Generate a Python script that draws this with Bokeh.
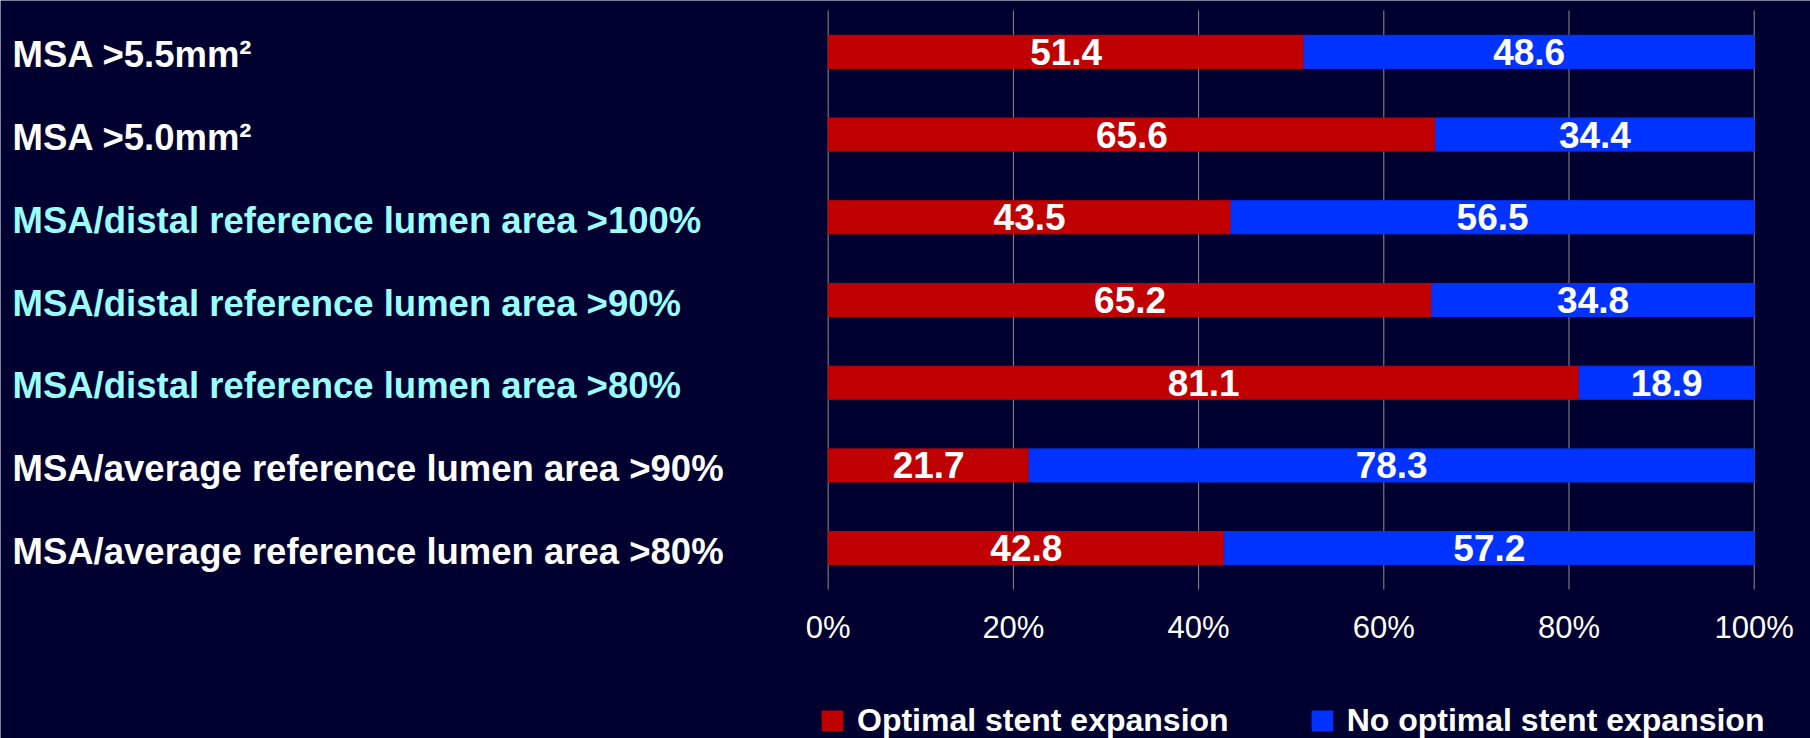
from bokeh.plotting import figure
from bokeh.models import ColumnDataSource, Range1d, Legend, LegendItem
from bokeh.core.properties import value
from bokeh.embed import file_html
from bokeh.resources import INLINE

# Criteria, listed top to bottom
categories = [
    "MSA >5.5mm²",
    "MSA >5.0mm²",
    "MSA/distal reference lumen area >100%",
    "MSA/distal reference lumen area >90%",
    "MSA/distal reference lumen area >80%",
    "MSA/average reference lumen area >90%",
    "MSA/average reference lumen area >80%",
]
optimal = [51.4, 65.6, 43.5, 65.2, 81.1, 21.7, 42.8]
not_optimal = [48.6, 34.4, 56.5, 34.8, 18.9, 78.3, 57.2]
label_colors = ["#FFFFFF", "#FFFFFF", "#99FFFF", "#99FFFF", "#99FFFF", "#FFFFFF", "#FFFFFF"]
x_ticks = [0, 20, 40, 60, 80, 100]
tick_labels = ["0%", "20%", "40%", "60%", "80%", "100%"]
series_names = ["Optimal stent expansion", "No optimal stent expansion"]

BG = "#000030"
RED = "#C00000"
BLUE = "#0033FF"
GRID = "#8C8C8C"
FONT = value("Liberation Sans")

W, H = 1810, 738
# plot area inside the canvas (pixels): left, right, top, bottom
PL, PR, PT, PB = 827.7, 1753.7, 10.0, 589.0

n = len(categories)
ypos = [n - 0.5 - i for i in range(n)]

# ranges chosen so that 0..100 % spans the plot area and each row is one unit tall
px_x = (PR - PL) / 100.0
px_y = (PB - PT) / n
x_range = Range1d(-PL / px_x, (W - PL) / px_x)
y_range = Range1d(-(H - PB) / px_y, n + PT / px_y)

p = figure(width=W, height=H, x_range=x_range, y_range=y_range,
           output_backend="svg", toolbar_location=None, min_border=0,
           background_fill_color=BG, border_fill_color=BG)
p.outline_line_color = None
p.axis.visible = False
p.grid.visible = False

src = ColumnDataSource(dict(
    y=ypos,
    opt=optimal,
    nopt=not_optimal,
    nopt_right=[a + b for a, b in zip(optimal, not_optimal)],
    opt_mid=[a / 2 for a in optimal],
    nopt_mid=[a + b / 2 for a, b in zip(optimal, not_optimal)],
    opt_txt=[f"{v:.1f}" for v in optimal],
    nopt_txt=[f"{v:.1f}" for v in not_optimal],
    name=categories,
    name_color=label_colors,
))

# vertical grid lines at the tick positions
p.segment(x0=x_ticks, y0=[0] * len(x_ticks), x1=x_ticks, y1=[n] * len(x_ticks),
          line_color=GRID, line_width=1)

r_opt = p.hbar(y="y", left=0, right="opt", height=0.4, color=RED, source=src)
r_nopt = p.hbar(y="y", left="opt", right="nopt_right", height=0.4, color=BLUE, source=src)

for col, txt in (("opt_mid", "opt_txt"), ("nopt_mid", "nopt_txt")):
    p.text(x=col, y="y", text=txt, source=src, text_align="center", text_baseline="middle",
           text_color="white", text_font_size="37px", text_font_style="bold",
           text_font=FONT)

# category names along the left edge
p.text(x=x_range.start, y="y", text="name", source=src, x_offset=12, y_offset=3,
       text_align="left", text_baseline="middle", text_color="name_color",
       text_font_size="36.5px", text_font_style="bold", text_font=FONT)

# percentage tick labels under the grid
p.text(x=x_ticks, y=[0] * len(x_ticks), text=tick_labels, y_offset=38,
       text_align="center", text_baseline="middle", text_color="white",
       text_font_size="31px", text_font=FONT)

legend = Legend(items=[LegendItem(label=series_names[0], renderers=[r_opt]),
                       LegendItem(label=series_names[1], renderers=[r_nopt])],
                orientation="horizontal", location=(819, -1),
                glyph_width=26, glyph_height=25, label_standoff=12, spacing=80,
                padding=0, margin=0, border_line_color=None, background_fill_alpha=0,
                label_text_font="Liberation Sans", label_text_font_size="32px",
                label_text_font_style="bold", label_text_color="white")
p.add_layout(legend)

open("out.html", "w").write(file_html(p, INLINE))
